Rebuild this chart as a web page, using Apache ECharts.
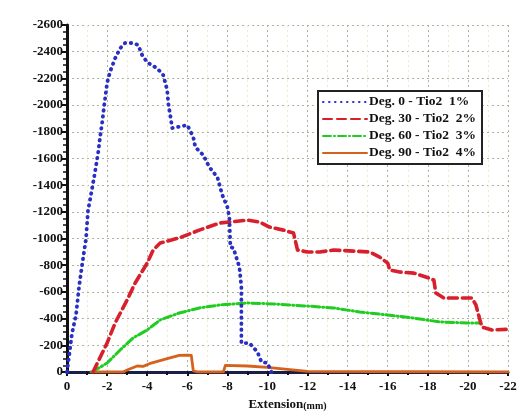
<!DOCTYPE html>
<html>
<head>
<meta charset="utf-8">
<script src="https://cdn.jsdelivr.net/npm/echarts@6/dist/echarts.min.js"></script>
<style>html,body{margin:0;padding:0;background:#fff}#c{width:523px;height:419px}</style>
</head>
<body>
<div id="c"></div>
<script>
const seriesNames = ['Deg. 0 - Tio2  1%', 'Deg. 30 - Tio2  2%', 'Deg. 60 - Tio2  3%', 'Deg. 90 - Tio2  4%'];
const xTicks = [0, -2, -4, -6, -8, -10, -12, -14, -16, -18, -20, -22];

const ext0  = [0, -0.25, -0.45, -0.6, -0.75, -0.95, -1.05, -1.15, -1.4, -1.55, -1.65, -1.75, -1.85, -2.0, -2.15, -2.4, -2.65, -2.9, -3.3, -3.55, -3.75, -4.0, -4.5, -4.8, -5.0, -5.05, -5.15, -5.25, -5.5, -6.0, -6.3, -6.4, -6.8, -7.1, -7.5, -7.75, -8.0, -8.1, -8.15, -8.3, -8.6, -8.7, -8.7, -8.7, -9.1, -9.5, -9.7, -10.0, -10.2];
const load0 = [0, -290, -427, -637, -800, -1000, -1213, -1290, -1500, -1640, -1760, -1865, -1990, -2165, -2250, -2350, -2425, -2465, -2465, -2450, -2375, -2320, -2275, -2225, -2112, -2015, -1925, -1828, -1835, -1850, -1760, -1685, -1625, -1535, -1460, -1325, -1236, -1160, -936, -929, -786, -637, -487, -217, -217, -150, -75, -67, 0];

const ext30  = [-1.3, -2.0, -2.4, -3.0, -3.4, -4.0, -4.3, -4.65, -5.6, -6.6, -7.6, -9.0, -9.6, -10.1, -10.8, -11.3, -11.5, -12.0, -12.6, -13.3, -14.3, -15.1, -15.6, -16.0, -16.1, -16.6, -17.3, -17.9, -18.3, -18.4, -18.8, -20.2, -20.4, -20.6, -20.7, -21.2, -22.0];
const load30 = [0, -217, -367, -540, -667, -816, -914, -966, -1005, -1063, -1116, -1138, -1124, -1086, -1063, -1041, -914, -899, -899, -914, -906, -899, -861, -816, -764, -749, -741, -712, -689, -592, -554, -554, -502, -390, -337, -315, -320];

const ext60  = [-1.25, -2.0, -2.65, -3.3, -4.0, -4.65, -5.6, -6.6, -7.6, -9.0, -10.3, -12.0, -13.3, -14.6, -16.0, -17.3, -18.6, -20.0, -20.6];
const load60 = [0, -67, -165, -255, -315, -390, -442, -480, -502, -517, -510, -494, -480, -450, -427, -404, -375, -367, -367];

const ext90  = [-1.2, -2.8, -3.0, -3.5, -3.8, -4.2, -5.0, -5.6, -6.0, -6.2, -6.3, -6.5, -7.8, -7.9, -9.0, -10.0, -11.0, -12.0, -22.0];
const load90 = [0, 0, -15, -45, -42, -67, -100, -125, -127, -125, -10, 0, 0, -50, -45, -35, -20, -5, 0];

function pairs(xs, ys) { return xs.map((x, i) => [x, ys[i]]); }

const colors = ['#2a2fc4', '#d8202c', '#21cc21', '#d5621c'];
const dashes = [[0.5, 5.5], [9, 5], [8, 3, 1, 3], 'solid'];
const widths = [3.8, 3.6, 3, 2.8];
const exts = [ext0, ext30, ext60, ext90];
const loads = [load0, load30, load60, load90];

const chart = echarts.init(document.getElementById('c'));
const serif = '"Liberation Serif", "DejaVu Serif", serif';
chart.setOption({
  animation: false,
  backgroundColor: '#fff',
  grid: { left: 67, right: 15, top: 25, bottom: 47 },
  legend: {
    left: 318, top: 91,
    orient: 'vertical',
    itemWidth: 44, itemHeight: 10, itemGap: 3,
    padding: [4, 6, 4, 4],
    borderColor: '#222', borderWidth: 2,
    backgroundColor: '#fff',
    itemStyle: { color: 'rgba(0,0,0,0)', borderColor: 'rgba(0,0,0,0)', borderWidth: 0 },
    textStyle: { fontFamily: serif, fontWeight: 'bold', fontSize: 13.5, color: '#111', padding: [0, 0, 0, -3] },
    data: seriesNames
  },
  xAxis: {
    type: 'value', min: -22, max: 0, interval: 2, inverse: true,
    name: '{a|Extension}{b|(mm)}', nameLocation: 'middle', nameGap: 26,
    nameTextStyle: { rich: {
      a: { fontFamily: serif, fontWeight: 'bold', fontSize: 13, color: '#111' },
      b: { fontFamily: serif, fontWeight: 'bold', fontSize: 10, color: '#111', padding: [3, 0, 0, 0] } } },
    axisLine: { onZero: false, lineStyle: { color: '#1a1f4a', width: 3 } },
    axisTick: { inside: false, length: 4, lineStyle: { color: '#111', width: 2 } },
    minorTick: { show: true, splitNumber: 2, length: 3, lineStyle: { color: '#111', width: 2 } },
    axisLabel: { fontFamily: serif, fontWeight: 'bold', fontSize: 13, color: '#111', margin: 8,
      formatter: v => String(v) },
    splitLine: { show: true, lineStyle: { color: '#a8b49a', type: [2, 3], width: 1 } },
    minorSplitLine: { show: true, lineStyle: { color: '#f1ebcc', type: [2, 3], width: 1 } }
  },
  yAxis: {
    type: 'value', min: -2600, max: 0, interval: 200, inverse: true,
    axisLine: { onZero: false, lineStyle: { color: '#111', width: 3 } },
    axisTick: { length: 6, lineStyle: { color: '#111', width: 2 } },
    minorTick: { show: true, splitNumber: 4, length: 4, lineStyle: { color: '#111', width: 1.5 } },
    axisLabel: { fontFamily: serif, fontWeight: 'bold', fontSize: 13, color: '#111', margin: 4,
      formatter: v => String(v) },
    splitLine: { show: true, lineStyle: { color: '#a8b49a', type: [2, 3], width: 1 } },
    minorSplitLine: { show: false }
  },
  series: seriesNames.map((n, i) => ({
    name: n, type: 'line', data: pairs(exts[i], loads[i]),
    showSymbol: false, symbol: 'none', z: 10 - i,
    color: colors[i],
    lineStyle: { color: colors[i], width: widths[i], type: dashes[i], cap: 'round', join: 'round' }
  }))
});
</script>
</body>
</html>
